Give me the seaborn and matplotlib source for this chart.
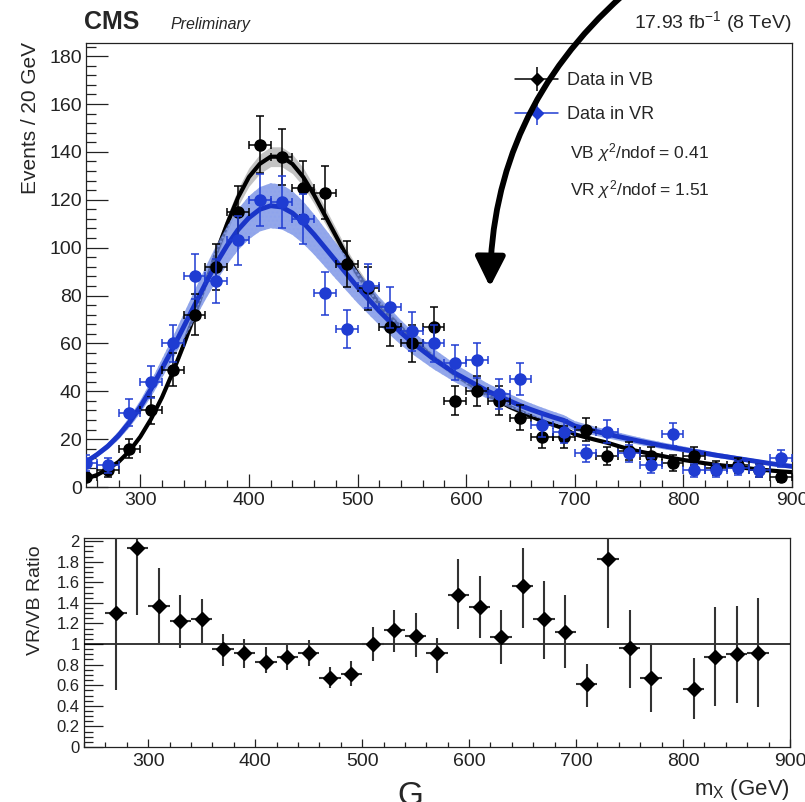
import numpy as np
import matplotlib
matplotlib.use("Agg")
import matplotlib.pyplot as plt
import seaborn as sns
from matplotlib.lines import Line2D
from matplotlib.patches import FancyArrowPatch
from matplotlib.ticker import MultipleLocator, FuncFormatter

# bin centres (20 GeV bins)
MASS = [250, 270, 290, 310, 330, 350, 370, 390, 410, 430, 450, 470, 490,
        510, 530, 550, 570, 590, 610, 630, 650, 670, 690, 710, 730, 750,
        770, 790, 810, 830, 850, 870, 890]
VB_COUNTS = [4, 7, 16, 32, 49, 72, 92, 115, 143, 138, 125, 123, 93,
             83, 67, 60, 67, 36, 40, 36, 29, 21, 21, 24, 13, 15,
             13, 10, 13, 8, 9, 7, 4]
VR_COUNTS = [10, 9, 31, 44, 60, 88, 86, 103, 120, 119, 112, 81, 66,
             84, 75, 65, 60, 52, 53, 39, 45, 26, 23, 14, 23, 14,
             9, 22, 7, 7, 8, 7, 12]

# fitted shapes, sampled every 10 GeV
FIT_MASS = list(range(250, 910, 10))
VB_FIT = [3.5, 5, 7.5, 10.5, 15, 21, 28.5, 37.5, 48, 59.5, 72, 85, 98, 110,
          121, 129.5, 135, 138, 138, 135, 129.5, 122, 113.5, 105, 96.5, 89,
          82.5, 76.5, 71, 66.5, 62, 58, 54, 50.5, 47, 44, 41, 38.5, 36, 33.5,
          31.5, 29.5, 27.5, 26, 24.5, 22, 20.8, 19.6, 18.5, 17.1, 15.8, 14.8,
          13.9, 13, 12.1, 11.3, 10.6, 9.9, 9.3, 8.8, 8.3, 7.8, 7.3, 6.9, 6.5,
          6.2]
VR_FIT = [10.5, 13.5, 17, 21.5, 27, 33.5, 41, 49.5, 58, 67, 76, 85, 93.5, 101,
          107.5, 112.5, 116, 117.5, 117, 114.5, 110.5, 105.5, 100, 94.5, 89,
          83.5, 78.5, 73.5, 69, 64.5, 60.5, 57, 53.5, 50.5, 47.5, 45, 42.5, 40,
          38, 36, 34, 32.3, 30.7, 29.2, 27.8, 25.5, 24.3, 23.2, 22.1, 21.1,
          20.1, 19.1, 18.2, 17.3, 16.5, 15.7, 14.9, 14.1, 13.3, 12.6, 11.9,
          11.2, 10.5, 9.8, 9.2, 8.6]
VB_BAND_REL = 0.03
VR_BAND_REL = 0.08

# VR/VB ratio panel
RATIO_MASS = [270, 290, 310, 330, 350, 370, 390, 410, 430, 450, 470, 490, 510,
              530, 550, 570, 590, 610, 630, 650, 670, 690, 710, 730, 750, 770,
              810, 830, 850, 870]
RATIO = [1.30, 1.93, 1.37, 1.22, 1.24, 0.95, 0.91, 0.83, 0.87, 0.91, 0.67,
         0.71, 1.00, 1.14, 1.08, 0.91, 1.48, 1.36, 1.07, 1.56, 1.24, 1.12,
         0.61, 1.83, 0.96, 0.67, 0.56, 0.87, 0.90, 0.91]
RATIO_LO = [0.55, 1.28, 1.01, 0.96, 1.01, 0.79, 0.77, 0.72, 0.75, 0.79, 0.57,
            0.59, 0.84, 0.92, 0.87, 0.72, 1.15, 1.06, 0.81, 1.16, 0.85, 0.77,
            0.39, 1.16, 0.57, 0.34, 0.27, 0.40, 0.43, 0.39]
RATIO_HI = [2.6, 2.6, 1.74, 1.48, 1.44, 1.10, 1.05, 0.97, 0.99, 1.04, 0.78,
            0.84, 1.17, 1.33, 1.30, 1.06, 1.83, 1.66, 1.33, 1.93, 1.61, 1.48,
            0.81, 2.6, 1.33, 0.99, 0.86, 1.36, 1.37, 1.45]

BLUE = "#1f3cd2"
W, H = 805, 802


def fx(px):
    return px / W


def fy(py):
    return 1 - py / H


def style_axis(ax):
    for sp in ax.spines.values():
        sp.set_linewidth(0.9)
        sp.set_color("#222222")
    ax.tick_params(which="both", direction="in", top=False, right=False,
                   bottom=True, left=True, colors="#222222", width=0.9)


def legend_handle(color):
    # ROOT-like legend entry: horizontal bar + vertical bar + marker
    hline = Line2D([], [], color=color, lw=1.1, marker="D", ms=6)
    vline = Line2D([], [], color=color, ls="none", marker="|", ms=17, mew=1.1)
    return (hline, vline)


def main():
    sns.set_theme(style="white")
    plt.rcParams["font.family"] = ["Liberation Sans", "DejaVu Sans"]
    plt.rcParams["mathtext.fontset"] = "custom"
    plt.rcParams["mathtext.rm"] = "Liberation Sans"
    plt.rcParams["mathtext.it"] = "Liberation Sans:italic"

    fig = plt.figure(figsize=(W / 100, H / 100), dpi=100)
    ax = fig.add_axes([fx(86), fy(487), (792 - 86) / W, (487 - 43) / H])
    ax2 = fig.add_axes([fx(84), fy(747), (790 - 84) / W, (747 - 538) / H])

    vb_fit = np.array(VB_FIT)
    vr_fit = np.array(VR_FIT)

    # fit bands + curves
    ax.fill_between(FIT_MASS, vb_fit * (1 - VB_BAND_REL), vb_fit * (1 + VB_BAND_REL),
                    color="#b5b5b5", alpha=0.8, lw=0, zorder=1)
    sns.lineplot(x=FIT_MASS, y=VB_FIT, color="black", lw=3, ax=ax, zorder=2)
    ax.fill_between(FIT_MASS, vr_fit * (1 - VR_BAND_REL), vr_fit * (1 + VR_BAND_REL),
                    facecolor="#6f8ae4", edgecolor="#8ea4ee", hatch="....",
                    alpha=0.75, lw=0, zorder=3)
    sns.lineplot(x=FIT_MASS, y=VR_FIT, color="#1a35c8", lw=3.5, ax=ax, zorder=4)

    # data points with poisson errors
    ax.errorbar(MASS, VB_COUNTS, xerr=10, yerr=np.sqrt(VB_COUNTS), fmt="o",
                color="black", ms=8, elinewidth=1.1, capsize=3, capthick=1.1,
                zorder=5)
    ax.errorbar(MASS, VR_COUNTS, xerr=10, yerr=np.sqrt(VR_COUNTS), fmt="o",
                color=BLUE, ms=8, elinewidth=1.1, capsize=3, capthick=1.1,
                zorder=6)

    ax.set_xlim(250, 900)
    ax.set_ylim(0, 185.5)
    style_axis(ax)
    ax.xaxis.set_major_locator(MultipleLocator(100))
    ax.xaxis.set_minor_locator(MultipleLocator(20))
    ax.yaxis.set_major_locator(MultipleLocator(20))
    ax.yaxis.set_minor_locator(MultipleLocator(4))
    ax.tick_params(axis="y", which="major", length=16, pad=3, labelsize=14)
    ax.tick_params(axis="y", which="minor", length=7)
    ax.tick_params(axis="x", which="major", length=9.5, pad=3.5, labelsize=14)
    ax.tick_params(axis="x", which="minor", length=5)
    ax.set_xlabel("")
    ax.set_ylabel("")

    leg = ax.legend(handles=[legend_handle("black"), legend_handle(BLUE)],
                    labels=["Data in VB", "Data in VR"], loc="upper left",
                    bbox_to_anchor=(fx(515), fy(72)), bbox_transform=fig.transFigure,
                    frameon=False, fontsize=13, borderpad=0, borderaxespad=0,
                    handlelength=2.4, handletextpad=0.5, labelspacing=0.95)
    leg.set_zorder(8)

    fig.text(fx(570), fy(153), r"VB $\chi^{2}$/ndof = 0.41", fontsize=12.5, va="center")
    fig.text(fx(570), fy(190), r"VR $\chi^{2}$/ndof = 1.51", fontsize=12.5, va="center")

    # ratio panel
    ratio = np.array(RATIO)
    yerr = [ratio - np.array(RATIO_LO), np.array(RATIO_HI) - ratio]
    ax2.errorbar(RATIO_MASS, RATIO, xerr=10, yerr=yerr, fmt="D", ms=7,
                 color="black", ecolor="#333333", elinewidth=1.5, capsize=0, zorder=5)
    ax2.axhline(1, color="black", lw=1.1, zorder=3)
    ax2.set_xlim(240, 900)
    ax2.set_ylim(0, 2.03)
    style_axis(ax2)
    ax2.xaxis.set_major_locator(MultipleLocator(100))
    ax2.xaxis.set_minor_locator(MultipleLocator(20))
    ax2.yaxis.set_major_locator(MultipleLocator(0.2))
    ax2.yaxis.set_minor_locator(MultipleLocator(0.05))
    ax2.yaxis.set_major_formatter(FuncFormatter(lambda v, p: f"{v:g}"))
    ax2.tick_params(axis="y", which="major", length=13.5, pad=3, labelsize=12)
    ax2.tick_params(axis="y", which="minor", length=6.5)
    ax2.tick_params(axis="x", which="major", length=6, pad=4, labelsize=14)
    ax2.tick_params(axis="x", which="minor", length=3.6)

    # titles / labels
    fig.text(fx(84), fy(22), "CMS", fontsize=18, fontweight="bold", va="center")
    fig.text(fx(170), fy(25), "Preliminary", fontsize=11.5, style="italic", va="center")
    fig.text(fx(792), fy(22), r"17.93 fb$^{-1}$ (8 TeV)", fontsize=14, ha="right", va="center")
    fig.text(fx(30), fy(42), "Events / 20 GeV", fontsize=15, rotation=90,
             ha="center", va="top")
    fig.text(fx(36), fy(545), "VR/VB Ratio", fontsize=14, rotation=90,
             ha="center", va="top")
    fig.text(fx(790), fy(789), r"m$_{\mathregular{X}}$ (GeV)", fontsize=16,
             ha="right", va="center")
    fig.text(fx(397), fy(781), "G", fontsize=24, va="top")

    # annotation arrow
    arrow = FancyArrowPatch(posA=(fx(622), fy(-4)), posB=(fx(490), fy(287)),
                            transform=fig.transFigure,
                            connectionstyle="arc3,rad=0.22", arrowstyle="-|>",
                            mutation_scale=45, lw=4.2, color="black",
                            shrinkA=0, shrinkB=0, zorder=10)
    fig.add_artist(arrow)

    fig.savefig("out.png", dpi=100)
    plt.close(fig)


if __name__ == "__main__":
    main()
